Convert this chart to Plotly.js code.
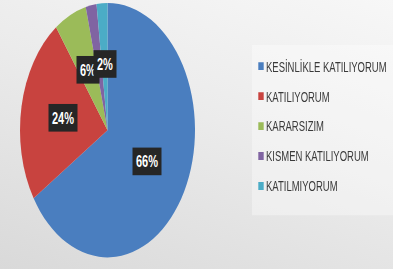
<!DOCTYPE html>
<html>
<head>
<meta charset="utf-8">
<script src="https://cdn.plot.ly/plotly-3.0.1.min.js"></script>
<style>
  html, body { margin:0; padding:0; width:393px; height:269px; overflow:hidden; }
  body { background: linear-gradient(200deg, #f7f7f7 0%, #ebebeb 45%, #d9d9d9 100%); }
  #wrap { width:393px; height:185px; transform: scaleY(1.4541); transform-origin: 0 0; }
  #chart { width:393px; height:185px; }
</style>
</head>
<body>
<div id="wrap"><div id="chart"></div></div>
<script>
const categories = ["KESİNLİKLE KATILIYORUM", "KATILIYORUM", "KARARSIZIM", "KISMEN KATILIYORUM", "KATILMIYORUM"];
const values = [66, 24, 6, 2, 2];
const colors = ["#4a7ebf", "#c8433f", "#9bbb59", "#8064a2", "#4bacc6"];

const W = 393, H = 185;
const dom = { x: [20 / W, 195 / W], y: [1 - 177 / H, 1 - 2 / H] };
const cxPx = (dom.x[0] + dom.x[1]) / 2 * W;
const cyPx = (1 - (dom.y[0] + dom.y[1]) / 2) * H;
const rPx = Math.min((dom.x[1] - dom.x[0]) * W, (dom.y[1] - dom.y[0]) * H) / 2;

const total = values.reduce((a, b) => a + b, 0);
const annotations = [];
let acc = 0;
values.forEach((v, i) => {
  const mid = (acc + v / 2) / total * 2 * Math.PI;
  acc += v;
  if (i === 3) return; // purple label sits under the cyan one in the reference
  const f = 0.52;
  const px = cxPx + f * rPx * Math.sin(mid);
  const py = cyPx - f * rPx * Math.cos(mid);
  annotations.push({
    xref: "paper", yref: "paper",
    x: px / W, y: 1 - py / H,
    xanchor: "center", yanchor: "middle",
    text: "<b>" + Math.round(v / total * 100) + "%</b>",
    showarrow: false,
    font: { family: "Liberation Sans, Arial, sans-serif", size: 11, color: "#ffffff" },
    bgcolor: "#262626",
    borderpad: 3
  });
});

const data = [{
  type: "pie",
  labels: categories,
  values: values,
  sort: false,
  direction: "clockwise",
  rotation: 0,
  marker: { colors: colors, line: { width: 0 } },
  textinfo: "none",
  hoverinfo: "none",
  domain: dom
}];

const layout = {
  width: W, height: H,
  margin: { l: 0, r: 0, t: 0, b: 0 },
  paper_bgcolor: "rgba(0,0,0,0)",
  plot_bgcolor: "rgba(0,0,0,0)",
  showlegend: true,
  legend: {
    x: 226 / W, y: 1 - 31 / H, xanchor: "left", yanchor: "top",
    bgcolor: "rgba(0,0,0,0)",
    font: { family: "Liberation Sans, Arial, sans-serif", size: 9.5, color: "#3a3a3a" },
    itemwidth: 30
  },
  shapes: [{
    type: "rect", xref: "paper", yref: "paper",
    x0: 252 / W, x1: 1, y0: 1 - 148 / H, y1: 1 - 31 / H,
    fillcolor: "rgba(255,255,255,0.35)", line: { width: 0 }, layer: "below"
  }],
  annotations: annotations
};

Plotly.newPlot("chart", data, layout, { staticPlot: true, displayModeBar: false }).then(() => {
  document.querySelectorAll(".legendpoints path").forEach(p => {
    p.setAttribute("transform", "translate(35,0) scale(0.45)");
  });
  const items = document.querySelectorAll(".legend .traces");
  let y0 = null;
  items.forEach((g, i) => {
    const m = /translate\(\s*([-\d.]+)[ ,]+([-\d.]+)\s*\)/.exec(g.getAttribute("transform") || "");
    if (!m) return;
    const x = parseFloat(m[1]), y = parseFloat(m[2]);
    if (y0 === null) y0 = y;
    g.setAttribute("transform", "translate(" + x + "," + (y0 + i * 20.6) + ")");
  });
});
</script>
</body>
</html>
